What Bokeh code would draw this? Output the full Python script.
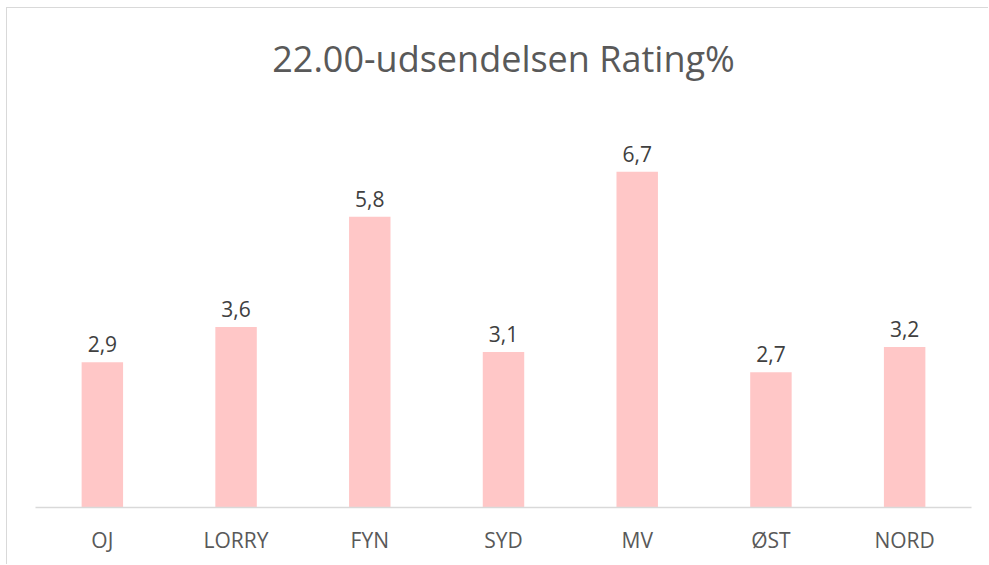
from bokeh.plotting import figure
from bokeh.models import ColumnDataSource, LabelSet, Range1d, InlineStyleSheet, Title
from bokeh.core.properties import value
from bokeh.embed import file_html
from bokeh.resources import INLINE

categories = ["OJ", "LORRY", "FYN", "SYD", "MV", "ØST", "NORD"]
ratings = [2.9, 3.6, 5.8, 3.1, 6.7, 2.7, 3.2]
rating_labels = ["2,9", "3,6", "5,8", "3,1", "6,7", "2,7", "3,2"]
title_text = "22.00-udsendelsen Rating%"

src = ColumnDataSource(dict(cat=categories, val=ratings, lab=rating_labels))

p = figure(x_range=categories, y_range=Range1d(0, 8),
           width=982, height=557, output_backend="svg", toolbar_location=None,
           min_border_left=28, min_border_right=18, min_border_top=97, min_border_bottom=58)
p.margin = (7, 0, 0, 6)
p.stylesheets = [InlineStyleSheet(css=":host { border-top: 1px solid #d9d9d9; border-left: 1px solid #d9d9d9; }")]

t = Title(text=title_text, align="center", text_font="Open Sans", text_font_size="36px",
          text_color="#595959", text_font_style="normal", standoff=47)
p.add_layout(t, "above")

p.vbar(x="cat", top="val", width=0.31, source=src, fill_color="#FFC7C7", line_color=None)

labels = LabelSet(x="cat", y="val", text="lab", source=src, text_align="center",
                  text_baseline="bottom", y_offset=10, text_font=value("Open Sans"),
                  text_font_size="21px", text_color="#404040")
p.add_layout(labels)

p.yaxis.visible = False
p.xgrid.grid_line_color = None
p.ygrid.grid_line_color = None
p.outline_line_color = None
p.xaxis.axis_line_color = "#d9d9d9"
p.xaxis.axis_line_width = 1.5
p.xaxis.major_tick_line_color = None
p.xaxis.minor_tick_line_color = None
p.xaxis.major_label_text_font = "Open Sans"
p.xaxis.major_label_text_font_size = "21px"
p.xaxis.major_label_text_color = "#595959"
p.xaxis.major_label_standoff = 12
p.x_range.range_padding = 0

open("out.html", "w").write(file_html(p, INLINE))
